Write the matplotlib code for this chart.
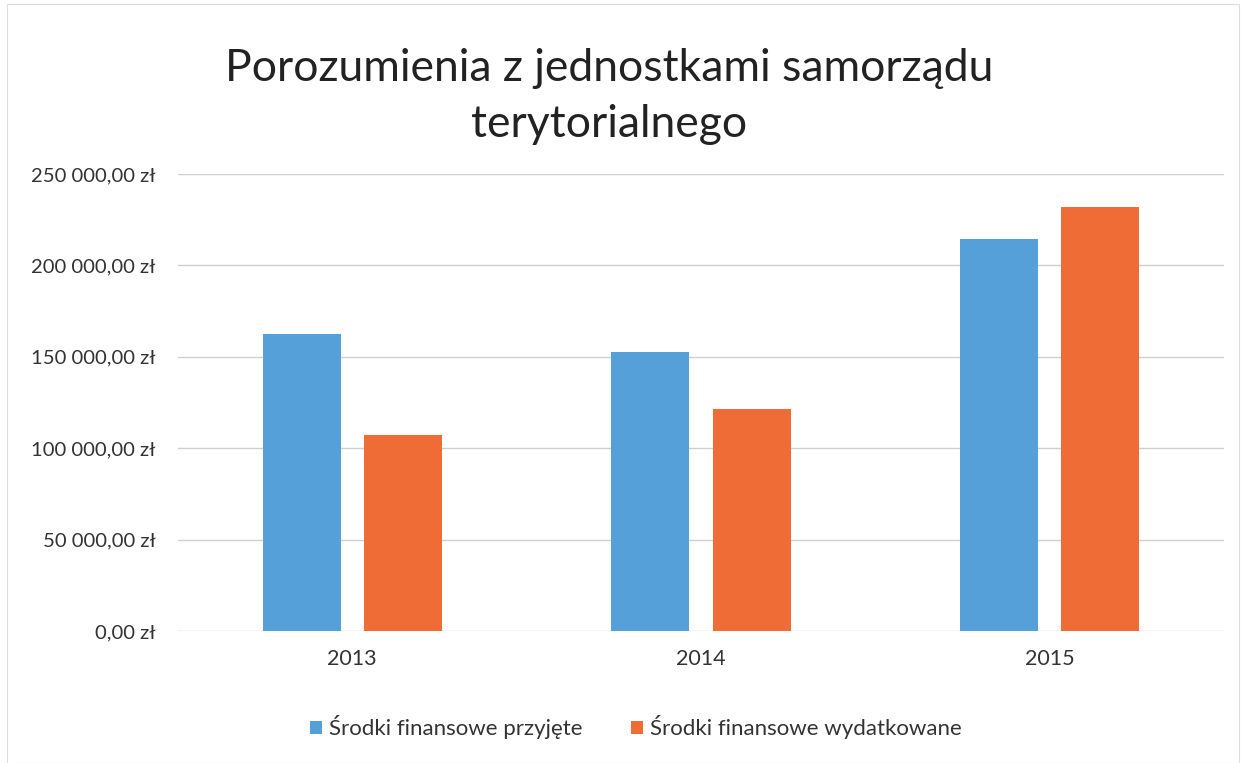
import matplotlib
matplotlib.use("Agg")
import matplotlib.pyplot as plt
import numpy as np
from matplotlib.ticker import FuncFormatter

years = ["2013", "2014", "2015"]
przyjete = [162500, 152500, 214600]
wydatkowane = [107200, 121500, 231800]
series_names = ["Środki finansowe przyjęte", "Środki finansowe wydatkowane"]
yticks = [0, 50000, 100000, 150000, 200000, 250000]

plt.rcParams['font.family'] = ['Lato', 'DejaVu Sans']

fig = plt.figure(figsize=(12.44, 7.63), dpi=100)
ax = fig.add_axes([0.143, 0.173, 0.841, 0.599])

x = np.arange(len(years))
w = 0.224
off = 0.145
blue = "#55A0D8"
orange = "#EF6C36"
b1 = ax.bar(x - off, przyjete, w, color=blue, label=series_names[0], zorder=3)
b2 = ax.bar(x + off, wydatkowane, w, color=orange, label=series_names[1], zorder=3)

ax.set_xlim(-0.5, 2.5)
ax.set_ylim(0, 250000)
ax.set_yticks(yticks)

def fmt(v, pos):
    s = f"{v:,.2f}".replace(",", " ").replace(".", ",")
    return s + " zł"
ax.yaxis.set_major_formatter(FuncFormatter(fmt))
ax.set_xticks(x)
ax.set_xticklabels(years)
ax.tick_params(axis='both', length=0, labelsize=14.6, colors="#333333")
ax.tick_params(axis='x', labelsize=15.5, pad=13)
ax.tick_params(axis='y', pad=16)
ax.grid(axis='y', color="#CFCFCF", linewidth=1, zorder=0)
for s in ax.spines.values():
    s.set_visible(False)

fig.text(0.49, 0.8735, "Porozumienia z jednostkami samorządu\nterytorialnego",
         ha='center', va='center', fontsize=32, color="#222222", linespacing=1.45)

fig.legend(handles=[b1, b2], labels=series_names, loc='center', bbox_to_anchor=(0.511, 0.047),
           ncol=2, frameon=False, fontsize=16, handlelength=0.55, handleheight=0.55,
           handletextpad=0.3, columnspacing=2.2, labelcolor="#333333")

fig.patches.append(matplotlib.patches.Rectangle((0.006, 0.0), 0.99, 0.995, transform=fig.transFigure,
                                                fill=False, edgecolor="#DDDDDD", linewidth=0.8))

fig.savefig("out.png", dpi=100)
